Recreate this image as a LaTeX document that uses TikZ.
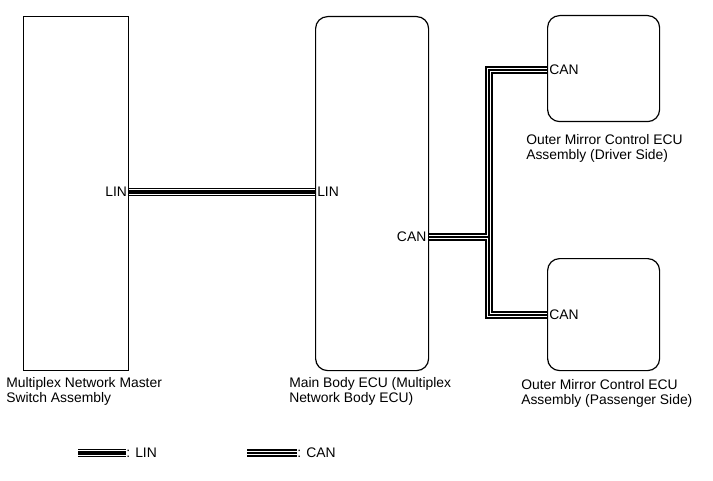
\documentclass[tikz,border=0pt]{standalone}
\usepackage{fontspec}
\setmainfont{Liberation Sans}
\begin{document}
\begin{tikzpicture}[x=0.75pt,y=-0.75pt,
  font=\fontsize{10.4}{11.4}\selectfont,
  box/.style={draw, line width=0.9pt, inner sep=0pt, anchor=north west},
  ecu/.style={box, rounded corners=9pt},
  lab/.style={anchor=north west, align=left, inner sep=0pt},
  pin/.style={inner sep=0pt},
  canA/.style={line width=6.4pt, draw=black},
  canB/.style={line width=3.4pt, draw=white},
  canC/.style={line width=0.9pt, draw=black},
  linA/.style={line width=6.4pt, draw=black},
  linB/.style={line width=4.8pt, draw=white},
  linC/.style={line width=2.8pt, draw=black}]
\useasboundingbox (0,0) rectangle (713,481);

% boxes
\node[box, minimum width=78.75pt, minimum height=265.5pt] (msw) at (23,16) {};
\node[ecu, minimum width=84.75pt, minimum height=265.5pt] (main) at (315,16) {};
\node[ecu, minimum width=84pt, minimum height=79.5pt] (drv) at (547,15) {};
\node[ecu, minimum width=84pt, minimum height=84pt] (pas) at (547,258) {};

% connector points
\coordinate (l1) at (msw.east |- 0,192);
\coordinate (l2) at (main.west |- 0,192);
\coordinate (cm) at (main.east |- 0,237);
\coordinate (jm) at (489,237);
\coordinate (jt) at (489,70);
\coordinate (jb) at (489,315);
\coordinate (cd) at (drv.west |- 0,70);
\coordinate (cp) at (pas.west |- 0,315);

% LIN
\foreach \s in {linA,linB,linC} \draw[\s] (l1) -- (l2);
% CAN
\foreach \s in {canA,canB,canC} \draw[\s, line join=miter] (cm) -- (jm) (cd) -- (jt) -- (jb) -- (cp);

% pin labels
\node[pin, anchor=east] (tl1) at ([xshift=-1.5pt]l1) {LIN};
\node[pin, anchor=west] (tl2) at ([xshift=1.5pt]l2) {LIN};
\node[pin, anchor=east] (tcm) at ([xshift=-2pt]cm) {CAN};
\node[pin, anchor=west] (tcd) at ([xshift=1.5pt]cd) {CAN};
\node[pin, anchor=west] (tcp) at ([xshift=1.5pt]cp) {CAN};

% box labels
\node[lab] (lmsw) at (6,377) {Multiplex Network Master\\Switch Assembly};
\node[lab] (lmain) at (289,377) {Main Body ECU (Multiplex\\Network Body ECU)};
\node[lab] (ldrv) at (526,134) {Outer Mirror Control ECU\\Assembly (Driver Side)};
\node[lab] (lpas) at (521,379) {Outer Mirror Control ECU\\Assembly (Passenger Side)};

% legend
\coordinate (g1a) at (78,453);
\coordinate (g1b) at (126,453);
\coordinate (g2a) at (247,453);
\coordinate (g2b) at (297,453);
\foreach \s in {linA,linB,linC} \draw[\s] (g1a) -- (g1b);
\foreach \s in {canA,canB,canC} \draw[\s] (g2a) -- (g2b);
\node[pin, anchor=west] (tg1) at (g1b) {: LIN};
\node[pin, anchor=west] (tg2) at (g2b) {: CAN};
\end{tikzpicture}
\end{document}
